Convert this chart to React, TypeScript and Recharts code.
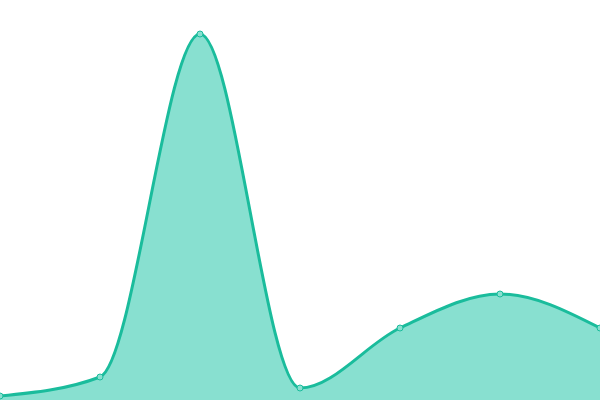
import { FC } from 'react'
import { Area, AreaChart, XAxis, YAxis } from 'recharts'

const LABELS = ['A', 'B', 'C', 'D', 'E', 'F', 'G']
const VALUES = [4, 23, 366, 12, 72, 106, 72]

const STROKE = '#1abc9c'
const FILL = '#88e0d0'

const App: FC = () => {
    const data = LABELS.map((name, i) => ({ name, value: VALUES[i] }))

    return (
        <div style={{ position: 'fixed', left: 0, top: 0 }}>
            <AreaChart width={600} height={400} data={data} margin={{ top: 0, right: 0, bottom: 0, left: 0 }}>
                <XAxis dataKey="name" hide />
                <YAxis hide domain={[0, 400]} />
                <Area
                    type="monotone"
                    dataKey="value"
                    stroke={STROKE}
                    strokeWidth={3}
                    fill={FILL}
                    fillOpacity={1}
                    dot={{ r: 3, fill: FILL, stroke: STROKE, strokeWidth: 1 }}
                    activeDot={false}
                    isAnimationActive={false}
                />
            </AreaChart>
        </div>
    )
}

export default App
